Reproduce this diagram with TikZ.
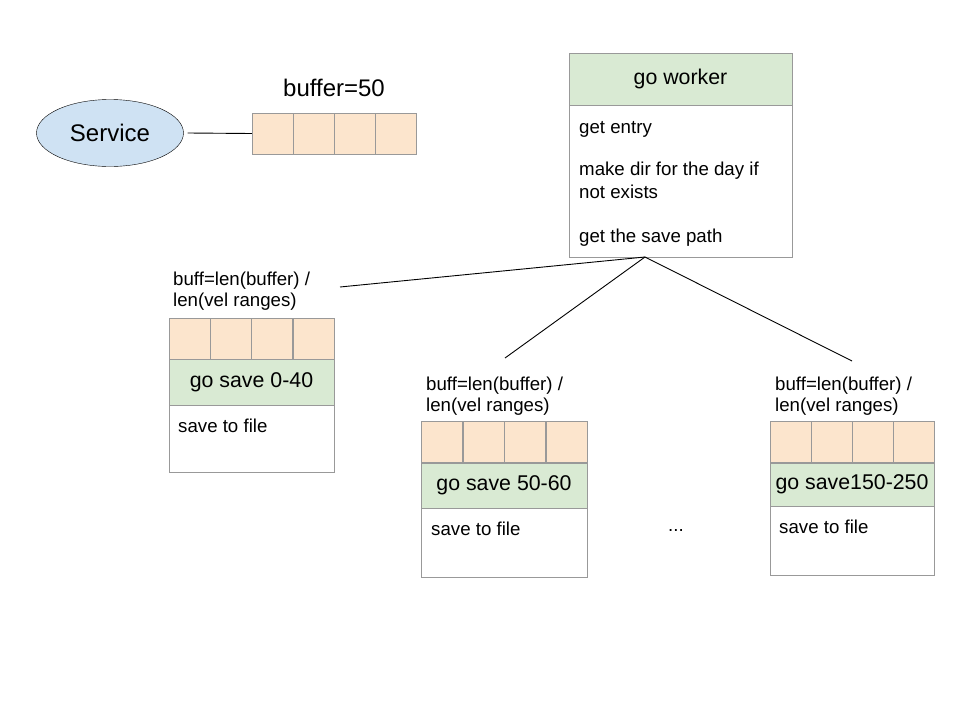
\documentclass[tikz,border=0pt]{standalone}
\usepackage{fontspec}
\setmainfont{Liberation Sans}
\usetikzlibrary{shapes.geometric}
\definecolor{cellfill}{HTML}{FCE5CD}
\definecolor{greenfill}{HTML}{D9EAD3}
\definecolor{bluefill}{HTML}{CFE2F3}
\definecolor{boxline}{HTML}{999999}
\tikzset{
  cell/.style={draw=boxline, fill=cellfill, minimum width=41pt, minimum height=41pt, inner sep=0pt},
  headbox/.style={draw=boxline, fill=greenfill, inner sep=0pt, font=\fontsize{21.33}{24}\selectfont},
  bodybox/.style={draw=boxline, fill=white, inner sep=0pt},
  bodytext/.style={anchor=base west, inner sep=0pt, font=\fontsize{18.67}{21}\selectfont},
  labeltext/.style={anchor=base west, inner sep=0pt, font=\fontsize{18.67}{21}\selectfont, align=left},
  link/.style={draw=black, line width=0.9pt},
}
\begin{document}
\begin{tikzpicture}[x=1pt,y=-1pt]
\useasboundingbox (0,0) rectangle (960,720);
% Service
\node[ellipse, draw=black, fill=bluefill, minimum width=147pt, minimum height=67pt, inner sep=0pt,
      font=\fontsize{24}{28}\selectfont] (svc) at (110,133) {Service};
% top buffer
\node[cell] (b1) at (272.5,133.5) {};
\node[cell] (b2) at (313.5,133.5) {};
\node[cell] (b3) at (354.5,133.5) {};
\node[cell] (b4) at (395.5,133.5) {};
\node[inner sep=0pt, font=\fontsize{24}{28}\selectfont] (bl) at (334,88) {buffer=50};
\draw[link] (svc.east) ++(4,0) -- (b1.west);
% worker
\node[headbox, minimum width=223pt, minimum height=52pt] (wh) at (680.5,79) {go worker};
\node[bodybox, minimum width=223pt, minimum height=152pt, anchor=north] (wb) at (wh.south) {};
\node[bodytext] (t1) at (579,133) {get entry};
\node[bodytext] (t2) at (579,175) {make dir for the day if};
\node[bodytext] (t3) at (579,198) {not exists};
\node[bodytext] (t4) at (579,242) {get the save path};
\coordinate (apex) at (645,257);
% left group
\node[labeltext] (l1) at (173,306) {buff=len(buffer) /\\len(vel ranges)};
\node[cell] (c11) at (189.6,338.5) {};
\node[cell] (c12) at (230.9,338.5) {};
\node[cell] (c13) at (272.1,338.5) {};
\node[cell] (c14) at (313.4,338.5) {};
\node[headbox, minimum width=165pt, minimum height=46pt, anchor=north] (g1) at (251.5,359) {go save 0-40};
\node[bodybox, minimum width=165pt, minimum height=67pt, anchor=north] (w1) at (g1.south) {};
\node[bodytext] (s1) at (178,432) {save to file};
\coordinate (e1) at (340,287);
% middle group
\node[labeltext] (l2) at (426,411) {buff=len(buffer) /\\len(vel ranges)};
\node[cell] (c21) at (441.75,442) {};
\node[cell] (c22) at (483.25,442) {};
\node[cell] (c23) at (524.75,442) {};
\node[cell] (c24) at (566.25,442) {};
\node[headbox, minimum width=166pt, minimum height=45pt, anchor=north] (g2) at (504,463) {go save 50-60};
\node[bodybox, minimum width=166pt, minimum height=69pt, anchor=north] (w2) at (g2.south) {};
\node[bodytext] (s2) at (431,535) {save to file};
\coordinate (e2) at (505,358);
% right group
\node[labeltext] (l3) at (775,411) {buff=len(buffer) /\\len(vel ranges)};
\node[cell] (c31) at (790.5,442) {};
\node[cell] (c32) at (831.5,442) {};
\node[cell] (c33) at (872.5,442) {};
\node[cell] (c34) at (913.5,442) {};
\node[headbox, minimum width=164pt, minimum height=43pt, anchor=north] (g3) at (852,463) {go save150-250};
\node[bodybox, minimum width=164pt, minimum height=69pt, anchor=north] (w3) at (g3.south) {};
\node[bodytext] (s3) at (779,533) {save to file};
\coordinate (e3) at (852,361);
\node[anchor=base, inner sep=0pt, font=\fontsize{18.67}{21}\selectfont] (dots) at (676,531) {...};
% connectors
\draw[link] (apex) -- (e1);
\draw[link] (apex) -- (e2);
\draw[link] (apex) -- (e3);
\end{tikzpicture}
\end{document}
